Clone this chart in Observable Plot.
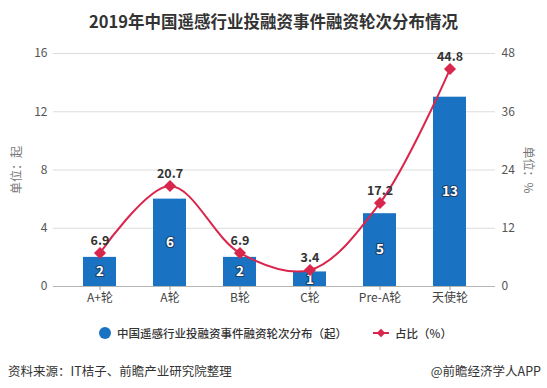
<!DOCTYPE html>
<html>
<head>
<meta charset="utf-8">
<script src="https://cdn.jsdelivr.net/npm/d3@7"></script>
<script src="https://cdn.jsdelivr.net/npm/@observablehq/plot@0.6"></script>
<style>
  html, body { margin: 0; padding: 0; background: #fff; }
  body { width: 547px; height: 388px; overflow: hidden; font-family: "Noto Sans CJK SC", "Noto Sans", sans-serif; color: #333; }
  #title { height: 40px; line-height: 42px; text-align: center; font-size: 16.5px; font-weight: bold; color: #333; }
  #chart { height: 270px; }
  #legend { height: 46px; display: flex; align-items: center; justify-content: center; font-size: 11.5px; color: #333; font-weight: 500; padding-left: 4px; box-sizing: border-box; }
  .dot { width: 12px; height: 12px; border-radius: 50%; background: #1a72c2; margin-right: 6px; }
  .lm { position: relative; width: 16px; height: 12px; margin-left: 26px; margin-right: 6px; }
  .lm .ln { position: absolute; left: 0; right: 0; top: 5px; height: 2px; background: #d9264c; }
  .lm .dm { position: absolute; left: 5px; top: 3px; width: 6px; height: 6px; background: #d9264c; transform: rotate(45deg); }
  #source { position: relative; height: 32px; font-size: 12.5px; color: #333; }
  #source .l { position: absolute; left: 8px; top: 5px; }
  #source .r { position: absolute; right: 6px; top: 5px; }
</style>
</head>
<body>
<div id="title">2019年中国遥感行业投融资事件融资轮次分布情况</div>
<div id="chart"></div>
<div id="legend"><span class="dot"></span><span>中国遥感行业投融资事件融资轮次分布（起）</span><span class="lm"><span class="ln"></span><span class="dm"></span></span><span>占比（%）</span></div>
<div id="source"><span class="l">资料来源：IT桔子、前瞻产业研究院整理</span><span class="r">@前瞻经济学人APP</span></div>
<script>
const categories = ["A+轮", "A轮", "B轮", "C轮", "Pre-A轮", "天使轮"];
const counts = [2, 6, 2, 1, 5, 13];
const shares = [6.9, 20.7, 6.9, 3.4, 17.2, 44.8];
const leftTicks = [0, 4, 8, 12, 16];
const rightTicks = [0, 12, 24, 36, 48];
const ratio = 16 / 48;

const barData = categories.map((c, i) => ({cat: c, v: counts[i]}));
const lineData = categories.map((c, i) => ({cat: c, p: shares[i], y: shares[i] * ratio}));

const plot = Plot.plot({
  width: 547,
  height: 270,
  marginTop: 13,
  marginBottom: 24,
  marginLeft: 53,
  marginRight: 52,
  style: {fontFamily: '"Noto Sans CJK SC", "Noto Sans", sans-serif', fontSize: "12px", color: "#555", background: "transparent"},
  x: {domain: categories, range: [62, 486], paddingInner: 0.53, paddingOuter: 0.265, label: null},
  y: {domain: [0, 16], label: null},
  marks: [
    Plot.ruleY(leftTicks.slice(1), {stroke: "#dcdcdc", strokeWidth: 1}),
    Plot.ruleY([0], {stroke: "#b5b5b5", strokeWidth: 1}),
    Plot.axisY(leftTicks, {anchor: "left", tickSize: 0, tickPadding: 6, fill: "#555", fontSize: 12, label: null}),
    Plot.axisY(leftTicks, {anchor: "right", tickSize: 0, tickPadding: 6, fill: "#555", fontSize: 12, label: null,
      tickFormat: (d) => String(rightTicks[leftTicks.indexOf(d)])}),
    Plot.axisX({tickSize: 4, tickPadding: 3, stroke: "#999", fill: "#444", fontSize: 12, label: null}),
    Plot.barY(barData, {x: "cat", y: "v", fill: "#1a72c2"}),
    Plot.text(barData, {x: "cat", y: (d) => d.v / 2, text: (d) => String(d.v), fill: "white", stroke: "#1d3f66", strokeWidth: 2.2, fontSize: 13.5, fontWeight: "bold"}),
    Plot.line(lineData, {x: "cat", y: "y", curve: "catmull-rom", stroke: "#d9264c", strokeWidth: 2}),
    Plot.dot(lineData, {x: "cat", y: "y", symbol: "diamond2", r: 4.5, fill: "#d9264c", stroke: "#d9264c"}),
    Plot.text(lineData, {x: "cat", y: "y", text: (d) => String(d.p), dy: -12, fill: "#333", fontSize: 12.5, fontWeight: "bold"}),
    Plot.text(["单位：起"], {frameAnchor: "left", textAnchor: "middle", dx: -36, rotate: -90, fill: "#777", fontSize: 12}),
    Plot.text(["单位：%"], {frameAnchor: "right", textAnchor: "middle", dx: 32, rotate: 90, fill: "#777", fontSize: 12})
  ]
});
document.getElementById("chart").appendChild(plot);
</script>
</body>
</html>
